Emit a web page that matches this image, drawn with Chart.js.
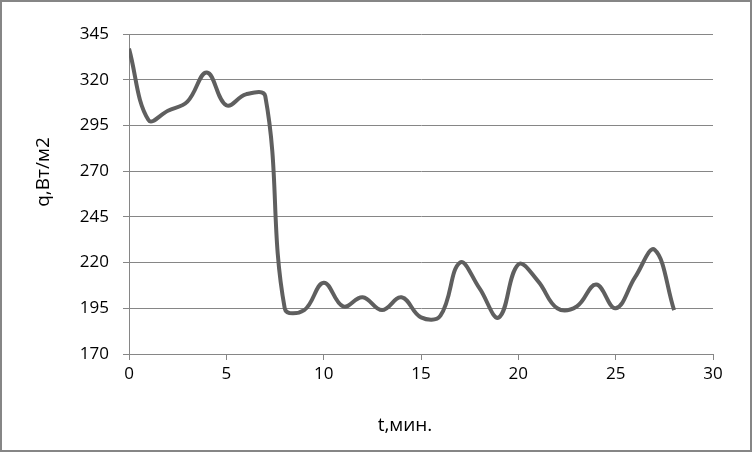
<!DOCTYPE html>
<html>
<head>
<meta charset="utf-8">
<script src="https://cdn.jsdelivr.net/npm/chart.js@4/dist/chart.umd.min.js"></script>
<style>
html,body{margin:0;padding:0;background:#fff;}
#wrap{width:752px;height:452px;position:relative;}
</style>
</head>
<body>
<div id="wrap"><canvas id="c" width="752" height="452"></canvas></div>
<script>
const times = [0,1,2,3,4,5,6,7,8,9,10,11,12,13,14,15,16,17,18,19,20,21,22,23,24,25,26,27,28];
const qValues = [337,298,303,308,324,306,312,311,195,194,209,196,201,194,201,190,191,220,206,190,219,210,195,196,208,195,212,227,194];
const xTitle = 't,мин.';
const yTitle = 'q,Вт/м2';
const xMin = 0, xMax = 30, xStep = 5;
const yMin = 170, yMax = 345, yStep = 25;

const gridColor = '#868686';
const fontFamily = '"Open Sans", "Liberation Sans", Arial, sans-serif';

const frameAndTitles = {
  id: 'frameAndTitles',
  afterDraw(chart) {
    const ctx = chart.ctx;
    ctx.save();
    ctx.strokeStyle = '#868686';
    ctx.lineWidth = 2;
    ctx.strokeRect(1, 1, chart.width - 2, chart.height - 2);
    ctx.fillStyle = '#000';
    ctx.font = '19px ' + fontFamily;
    ctx.textAlign = 'center';
    ctx.textBaseline = 'middle';
    ctx.fillText(xTitle, 405, 426);
    ctx.translate(44, 172);
    ctx.rotate(-Math.PI / 2);
    ctx.fillText(yTitle, 0, 0);
    ctx.restore();
  }
};

new Chart(document.getElementById('c'), {
  type: 'line',
  data: {
    datasets: [{
      data: times.map((t, i) => ({x: t, y: qValues[i]})),
      borderColor: '#5f5f5f',
      borderWidth: 4,
      pointRadius: 0,
      tension: 0.4,
      fill: false
    }]
  },
  options: {
    responsive: false,
    animation: false,
    layout: {padding: {top: 34, right: 39, left: 0, bottom: 0}},
    plugins: {legend: {display: false}, tooltip: {enabled: false}},
    scales: {
      x: {
        type: 'linear',
        min: xMin, max: xMax,
        ticks: {stepSize: xStep, color: '#000', font: {family: fontFamily, size: 17}, padding: 4, maxRotation: 0},
        grid: {drawOnChartArea: false, color: gridColor, tickLength: 6, tickColor: gridColor},
        border: {color: gridColor, width: 1},
        afterFit(scale) { scale.height = 98; }
      },
      y: {
        min: yMin, max: yMax,
        ticks: {stepSize: yStep, color: '#000', font: {family: fontFamily, size: 17}, padding: 14},
        grid: {color: gridColor, tickLength: 6, tickColor: gridColor},
        border: {color: gridColor, width: 1},
        afterFit(scale) { scale.width = 129; }
      }
    }
  },
  plugins: [frameAndTitles]
});
</script>
</body>
</html>
